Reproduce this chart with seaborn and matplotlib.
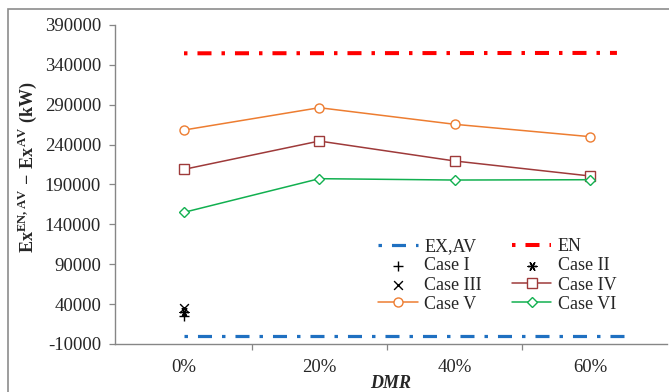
import matplotlib
matplotlib.use("Agg")
import matplotlib.pyplot as plt
from matplotlib.patches import Rectangle
import seaborn as sns
import numpy as np

sns.set_theme(style="white")
plt.rcParams["font.family"] = ["Liberation Serif", "DejaVu Serif"]
plt.rcParams["mathtext.fontset"] = "custom"
plt.rcParams["mathtext.rm"] = "Liberation Serif"
plt.rcParams["mathtext.bf"] = "Liberation Serif:bold"
plt.rcParams["lines.scale_dashes"] = False

# DMR values (%) and tick labels
dmr = [0, 20, 40, 60]
dmr_labels = ["0%", "20%", "40%", "60%"]

# Reference lines (span a slightly wider DMR range)
en_dmr = [0, 64]
en_vals = [354500, 355000]
exav_dmr = [0, 65.5]
exav_vals = [200, 200]

# Single-point cases at 0% DMR
case1_dmr, case1_val = [0], [25000]
case2_dmr, case2_val = [0], [30000]
case3_dmr, case3_val = [0], [35000]

# Multi-point cases
case4 = [209000, 244500, 219500, 200700]
case5 = [258300, 286300, 265500, 250000]
case6 = [155100, 197300, 195600, 196000]

W, H = 669, 392
fig = plt.figure(figsize=(W / 100, H / 100), dpi=100)
ax = fig.add_axes([115 / W, 1 - 344 / H, (667 - 115) / W, (344 - 25) / H])

dashdot = (0, (2.5, 7.2, 10.1, 7.2))
sns.lineplot(x=exav_dmr, y=exav_vals, ax=ax, color="#1f70c1", linewidth=2.3,
             linestyle=dashdot, label="EX,AV")
sns.lineplot(x=en_dmr, y=en_vals, ax=ax, color="#ff0000", linewidth=2.9,
             linestyle=dashdot, label="EN")

sns.scatterplot(x=case1_dmr, y=case1_val, ax=ax, marker="+", color="black",
                s=45, linewidth=1.0, label="Case I")
sns.scatterplot(x=case2_dmr, y=case2_val, ax=ax, marker=(6, 2, 90), color="black",
                s=40, linewidth=1.0, label="Case II")
sns.scatterplot(x=case3_dmr, y=case3_val, ax=ax, marker="x", color="black",
                s=40, linewidth=1.0, label="Case III")

line_kw = dict(linewidth=1.1, markersize=6.5, markerfacecolor="white",
               markeredgewidth=1.0)
sns.lineplot(x=dmr, y=case4, ax=ax, color="#9e3a3a", marker="s",
             markeredgecolor="#9e3a3a", label="Case IV", **line_kw)
sns.lineplot(x=dmr, y=case5, ax=ax, color="#ed7d31", marker="o",
             markeredgecolor="#ed7d31", label="Case V", **line_kw)
sns.lineplot(x=dmr, y=case6, ax=ax, color="#12b050", marker="D",
             markeredgecolor="#12b050", label="Case VI",
             **{**line_kw, "markersize": 5.5})

# Axes limits and ticks
ax.set_xlim(-10.2, 71.4)
ax.set_ylim(-10000, 390000)
ax.set_yticks(np.arange(-10000, 390001, 50000))
ax.set_yticklabels([f"{v:d}" for v in range(-10000, 390001, 50000)])
ax.set_xticks(dmr)
ax.set_xticklabels(dmr_labels)
ax.set_xticks([10, 30, 50], minor=True)
ax.tick_params(axis="x", which="major", length=0, pad=11, labelsize=13.5)
ax.tick_params(axis="x", which="minor", length=4, width=0.9,
               color="#868686", direction="out", bottom=True)
ax.tick_params(axis="y", which="major", length=4, width=0.9,
               color="#868686", direction="out", left=True, pad=6, labelsize=13.5)

for side in ("top", "right"):
    ax.spines[side].set_visible(False)
for side in ("left", "bottom"):
    ax.spines[side].set_color("#868686")
    ax.spines[side].set_linewidth(1.0)
ax.grid(False)

ax.set_ylabel(r"$\mathbf{Ex}^{\mathbf{EN,AV}}\ \mathbf{-\ Ex}^{\mathbf{AV}}\ \mathbf{(kW)}$",
              fontsize=13)
ax.yaxis.set_label_coords(-0.137, 0.555)
ax.set_xlabel("DMR", fontsize=13, fontweight="bold", fontstyle="italic")
ax.xaxis.set_label_coords(0.5, -0.098)

# Legend laid out row by row in two columns
handles, labels = ax.get_legend_handles_labels()
hmap = dict(zip(labels, handles))
order = ["EX,AV", "Case I", "Case III", "Case V",
         "EN", "Case II", "Case IV", "Case VI"]
leg = ax.legend([hmap[k] for k in order], order, ncol=2, frameon=False,
                loc="upper left", bbox_to_anchor=(371 / W, 1 - 231 / H),
                bbox_transform=fig.transFigure, fontsize=13,
                handlelength=2.2, handletextpad=0.35, columnspacing=1.65,
                labelspacing=0.12, borderaxespad=0)

# Outer frame around the figure
fig.patches.append(Rectangle((8 / W, -0.05), 1.2, 1 - 9 / H + 0.05,
                             transform=fig.transFigure, fill=False,
                             edgecolor="#8c8c8c", linewidth=1.2,
                             clip_on=False))

fig.savefig("out.png", dpi=100)
